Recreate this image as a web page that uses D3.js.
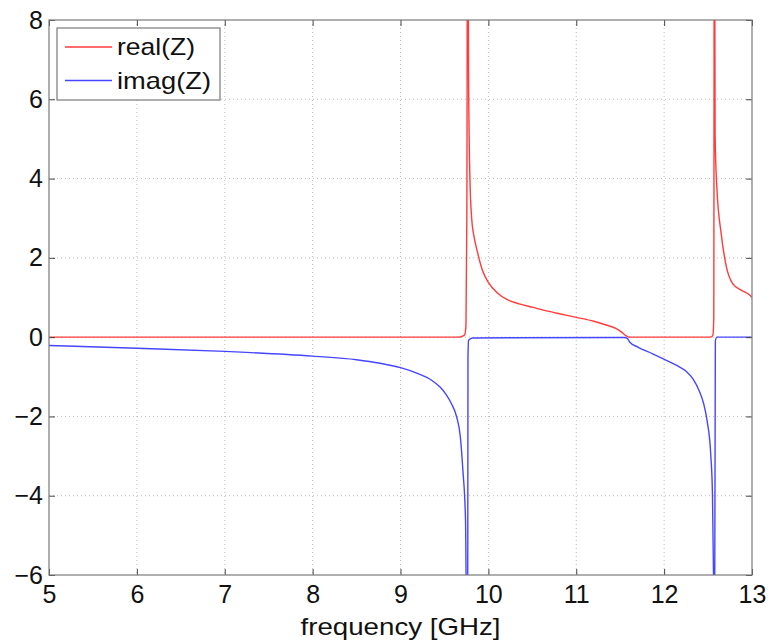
<!DOCTYPE html>
<html>
<head>
<meta charset="utf-8">
<script src="https://cdn.jsdelivr.net/npm/d3@7"></script>
<style>
  body { margin: 0; background: #fff; }
  svg text { font-family: "Liberation Sans", Arial, sans-serif; fill: #111; }
</style>
</head>
<body>
<div id="chart"></div>
<script>
// data
const realFreq = [5, 9.66, 9.70, 9.73, 9.745, 9.755, 9.765, 9.775, 9.79, 9.81, 9.84, 9.87, 9.93, 10.0, 10.1, 10.21, 10.35, 10.51, 10.65, 10.81, 11.0, 11.2, 11.35, 11.45, 11.52, 11.57, 11.6, 12.53, 12.555, 12.565, 12.572, 12.58, 12.6, 12.65, 12.71, 12.78, 12.88, 12.98, 13];
const realZ    = [0, 0, 0.02, 0.06, 0.3, 3, 14, 6.5, 4.0, 3.0, 2.5, 2.2, 1.7, 1.38, 1.12, 0.95, 0.84, 0.75, 0.67, 0.59, 0.5, 0.4, 0.3, 0.22, 0.12, 0.03, 0, 0, 0.05, 0.5, 14, 5.1, 3.78, 2.6, 1.76, 1.35, 1.18, 1.05, 1.0];

const imagFreq = [5, 6, 7, 8, 8.5, 8.77, 9.0, 9.2, 9.35, 9.45, 9.52, 9.58, 9.64, 9.68, 9.71, 9.74, 9.755, 9.765, 9.768, 9.775, 9.82, 11.55, 11.58, 11.61, 11.7, 11.87, 12.05, 12.15, 12.25, 12.33, 12.40, 12.45, 12.49, 12.53, 12.55, 12.565, 12.575, 12.583, 12.6, 13];
const imagZ    = [-0.21, -0.28, -0.36, -0.48, -0.57, -0.66, -0.77, -0.92, -1.08, -1.26, -1.45, -1.68, -2.02, -2.5, -3.36, -4.62, -8, -6.5, -0.5, -0.08, -0.02, -0.01, -0.03, -0.13, -0.25, -0.42, -0.61, -0.72, -0.86, -1.06, -1.36, -1.68, -2.12, -2.94, -3.95, -6.5, -7, -0.1, 0, 0];

const xTicks = [5, 6, 7, 8, 9, 10, 11, 12, 13];
const yTicks = [-6, -4, -2, 0, 2, 4, 6, 8];
const seriesNames = ["real(Z)", "imag(Z)"];
const seriesColors = ["#ff3b3b", "#4646ff"];

const margin = { top: 20, right: 28, bottom: 65, left: 49 };
const W = 780, H = 640;
const width = W - margin.left - margin.right;
const height = H - margin.top - margin.bottom;

const svg = d3.select("#chart").append("svg")
  .attr("width", W)
  .attr("height", H);

const g = svg.append("g")
  .attr("transform", `translate(${margin.left},${margin.top})`);

const x = d3.scaleLinear().domain([5, 13]).range([0, width]);
const y = d3.scaleLinear().domain([-6, 8]).range([height, 0]);

// grid
g.append("g").selectAll("line")
  .data(xTicks.slice(1, -1))
  .join("line")
  .attr("x1", d => x(d)).attr("x2", d => x(d))
  .attr("y1", 0).attr("y2", height)
  .attr("stroke", "#bbb")
  .attr("stroke-dasharray", "1,3");

g.append("g").selectAll("line")
  .data(yTicks.slice(1, -1))
  .join("line")
  .attr("y1", d => y(d)).attr("y2", d => y(d))
  .attr("x1", 0).attr("x2", width)
  .attr("stroke", "#bbb")
  .attr("stroke-dasharray", "1,3");

// lines
g.append("clipPath").attr("id", "clip")
  .append("rect").attr("width", width).attr("height", height);

const line = d3.line()
  .curve(d3.curveMonotoneX)
  .x(d => x(d[0]))
  .y(d => y(d[1]));

const realPts = realFreq.map((f, i) => [f, realZ[i]]);
const imagPts = imagFreq.map((f, i) => [f, imagZ[i]]);

g.append("path")
  .datum(realPts)
  .attr("clip-path", "url(#clip)")
  .attr("fill", "none")
  .attr("stroke", seriesColors[0])
  .attr("stroke-width", 1.4)
  .attr("d", line);

g.append("path")
  .datum(imagPts)
  .attr("clip-path", "url(#clip)")
  .attr("fill", "none")
  .attr("stroke", seriesColors[1])
  .attr("stroke-width", 1.4)
  .attr("d", line);

// axes (ticks inside, all four sides)
const tickLen = 6;
const styleAxis = sel => {
  sel.select(".domain").remove();
  sel.selectAll(".tick line").attr("stroke", "#444");
  sel.selectAll(".tick text").style("font-size", "25px");
};

g.append("g")
  .attr("transform", `translate(0,${height})`)
  .call(d3.axisBottom(x).tickValues(xTicks).tickSizeInner(-tickLen).tickSizeOuter(0).tickPadding(10))
  .call(styleAxis);

g.append("g")
  .call(d3.axisTop(x).tickValues(xTicks).tickSizeInner(-tickLen).tickSizeOuter(0).tickFormat(""))
  .call(styleAxis);

g.append("g")
  .call(d3.axisLeft(y).tickValues(yTicks).tickSizeInner(-tickLen).tickSizeOuter(0).tickPadding(6))
  .call(styleAxis);

g.append("g")
  .attr("transform", `translate(${width},0)`)
  .call(d3.axisRight(y).tickValues(yTicks).tickSizeInner(-tickLen).tickSizeOuter(0).tickFormat(""))
  .call(styleAxis);

// box
g.append("rect")
  .attr("width", width)
  .attr("height", height)
  .attr("fill", "none")
  .attr("stroke", "#7a7a7a")
  .attr("stroke-width", 1.2);

// x label
g.append("text")
  .attr("x", width / 2 - 100)
  .attr("y", height + 60)
  .attr("textLength", 200)
  .attr("lengthAdjust", "spacingAndGlyphs")
  .style("font-size", "24px")
  .text("frequency [GHz]");

// legend
const legend = g.append("g").attr("transform", "translate(8,8)");
legend.append("rect")
  .attr("width", 163)
  .attr("height", 72)
  .attr("fill", "#fff")
  .attr("stroke", "#7a7a7a")
  .attr("stroke-width", 1.2);

const legendTextW = [78, 94];
seriesNames.forEach((name, i) => {
  const ly = 19 + i * 33.5;
  legend.append("line")
    .attr("x1", 8).attr("x2", 55)
    .attr("y1", ly).attr("y2", ly)
    .attr("stroke", seriesColors[i])
    .attr("stroke-width", 1.4);
  legend.append("text")
    .attr("x", 60)
    .attr("y", ly)
    .attr("dy", "0.35em")
    .attr("textLength", legendTextW[i])
    .attr("lengthAdjust", "spacingAndGlyphs")
    .style("font-size", "24px")
    .text(name);
});
</script>
</body>
</html>
